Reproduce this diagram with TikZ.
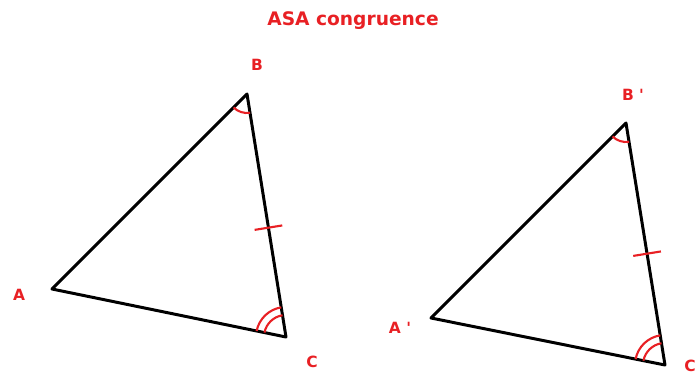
\documentclass[tikz,border=0pt]{standalone}
\usepackage{fontspec}
\setmainfont{DejaVu Sans}
\usetikzlibrary{angles,calc}
\definecolor{lblred}{RGB}{232,32,36}
\tikzset{
  side/.style={line width=0.85pt, line cap=round, line join=round},
  redmark/.style={draw=lblred, line width=0.6pt},
  lbl/.style={text=lblred, font=\bfseries\fontsize{4.4}{5}\selectfont, inner sep=0pt},
  ttl/.style={text=lblred, font=\bfseries\fontsize{5.3}{6}\selectfont, inner sep=0pt},
}
\begin{document}
\begin{tikzpicture}[x=0.01cm,y=-0.01cm]
\useasboundingbox (0,0) rectangle (699,372);
% left triangle
\coordinate (A) at (52,289);
\coordinate (B) at (247,94);
\coordinate (C) at (286,337);
\draw[side] (A) -- (B) -- (C) -- cycle;
\pic[redmark, angle radius=0.19cm] {angle = A--B--C};
\pic[redmark, angle radius=0.22cm] {angle = B--C--A};
\pic[redmark, angle radius=0.30cm] {angle = B--C--A};
\coordinate (T) at ($(B)!0.55!(C)$);
\draw[redmark] ($(T)!0.14cm!90:(C)$) -- ($(T)!0.14cm!-90:(C)$);
\node[lbl] (la) at (19,295) {A};
\node[lbl] (lb) at (257,65) {B};
\node[lbl] (lc) at (312,362) {C};
% right triangle
\coordinate (A2) at (431,318);
\coordinate (B2) at (626,123);
\coordinate (C2) at (665,365);
\draw[side] (A2) -- (B2) -- (C2) -- cycle;
\pic[redmark, angle radius=0.19cm] {angle = A2--B2--C2};
\pic[redmark, angle radius=0.22cm] {angle = B2--C2--A2};
\pic[redmark, angle radius=0.30cm] {angle = B2--C2--A2};
\coordinate (T2) at ($(B2)!0.54!(C2)$);
\draw[redmark] ($(T2)!0.14cm!90:(C2)$) -- ($(T2)!0.14cm!-90:(C2)$);
\node[lbl] (la2) at (400,328) {A \textquotesingle};
\node[lbl] (lb2) at (633,95) {B \textquotesingle};
\node[lbl] (lc2) at (690,366) {C};
% title
\node[ttl] (title) at (353,21) {ASA congruence};
\end{tikzpicture}
\end{document}
